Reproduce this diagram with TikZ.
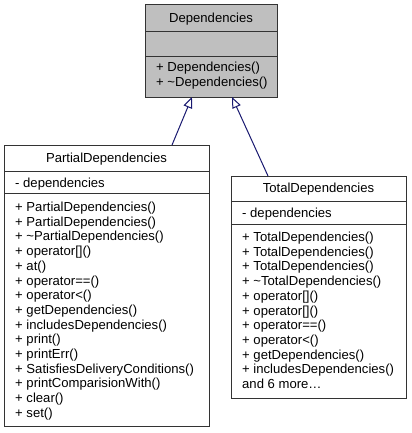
\documentclass[tikz,border=0pt]{standalone}
\usepackage{fontspec}
\setmainfont{Liberation Sans}
\usetikzlibrary{arrows.meta}
\definecolor{edgeblue}{HTML}{191970}
\definecolor{hdrgray}{HTML}{BFBFBF}
\definecolor{framegray}{HTML}{333333}
\begin{document}
\begin{tikzpicture}[x=1bp,y=-1bp,
  font=\fontsize{13.1bp}{14.7bp}\selectfont,
  classbox/.style={draw=framegray, line width=1bp, fill=white, inner sep=0, anchor=north west},
  sep/.style={draw=framegray, line width=1bp},
  txt/.style={anchor=base west, inner sep=0},
  ttl/.style={anchor=base, inner sep=0},
  inh/.style={draw=edgeblue, line width=1bp, -{Triangle[length=11bp,width=9bp,fill=white]}}]
\useasboundingbox (0,0) rectangle (411,433);

% Dependencies
\node[classbox, fill=hdrgray, minimum width=132bp, minimum height=93bp] (dep) at (145,4) {};
\draw[sep] (145,32) -- (277,32);
\draw[sep] (145,57) -- (277,57);
\node[ttl] (depT) at (211,22.5) {Dependencies};
\node[txt] (depM1) at (156,72) {+ Dependencies()};
\node[txt] (depM2) at (156,86.5) {+ \textasciitilde Dependencies()};

% PartialDependencies
\node[classbox, minimum width=205bp, minimum height=281bp] (par) at (4,145) {};
\draw[sep] (4,172) -- (209,172);
\draw[sep] (4,194) -- (209,194);
\node[ttl] (parT) at (106.5,162.5) {PartialDependencies};
\node[txt] (parA) at (15,187.5) {- dependencies};
\foreach \t [count=\i from 0] in {%
  {+ PartialDependencies()},
  {+ PartialDependencies()},
  {+ \textasciitilde PartialDependencies()},
  {+ operator[]()},
  {+ at()},
  {+ operator==()},
  {+ operator<()},
  {+ getDependencies()},
  {+ includesDependencies()},
  {+ print()},
  {+ printErr()},
  {+ SatisfiesDeliveryConditions()},
  {+ printComparisionWith()},
  {+ clear()},
  {+ set()}}
  \node[txt] (parM\i) at (15,211.5+\i*14.7) {\t};

% TotalDependencies
\node[classbox, minimum width=175bp, minimum height=222bp] (tot) at (231,176) {};
\draw[sep] (231,202) -- (406,202);
\draw[sep] (231,224) -- (406,224);
\node[ttl] (totT) at (318.5,192.5) {TotalDependencies};
\node[txt] (totA) at (242,217.5) {- dependencies};
\foreach \t [count=\i from 0] in {%
  {+ TotalDependencies()},
  {+ TotalDependencies()},
  {+ TotalDependencies()},
  {+ \textasciitilde TotalDependencies()},
  {+ operator[]()},
  {+ operator[]()},
  {+ operator==()},
  {+ operator<()},
  {+ getDependencies()},
  {+ includesDependencies()},
  {and 6 more\ldots}}
  \node[txt] (totM\i) at (242,241.5+\i*14.7) {\t};

% inheritance connectors
\coordinate (depL) at (192,97);
\coordinate (depR) at (232,97);
\coordinate (parTop) at (172,145);
\coordinate (totTop) at (268,176);
\draw[inh] (parTop) -- (depL);
\draw[inh] (totTop) -- (depR);
\end{tikzpicture}
\end{document}
